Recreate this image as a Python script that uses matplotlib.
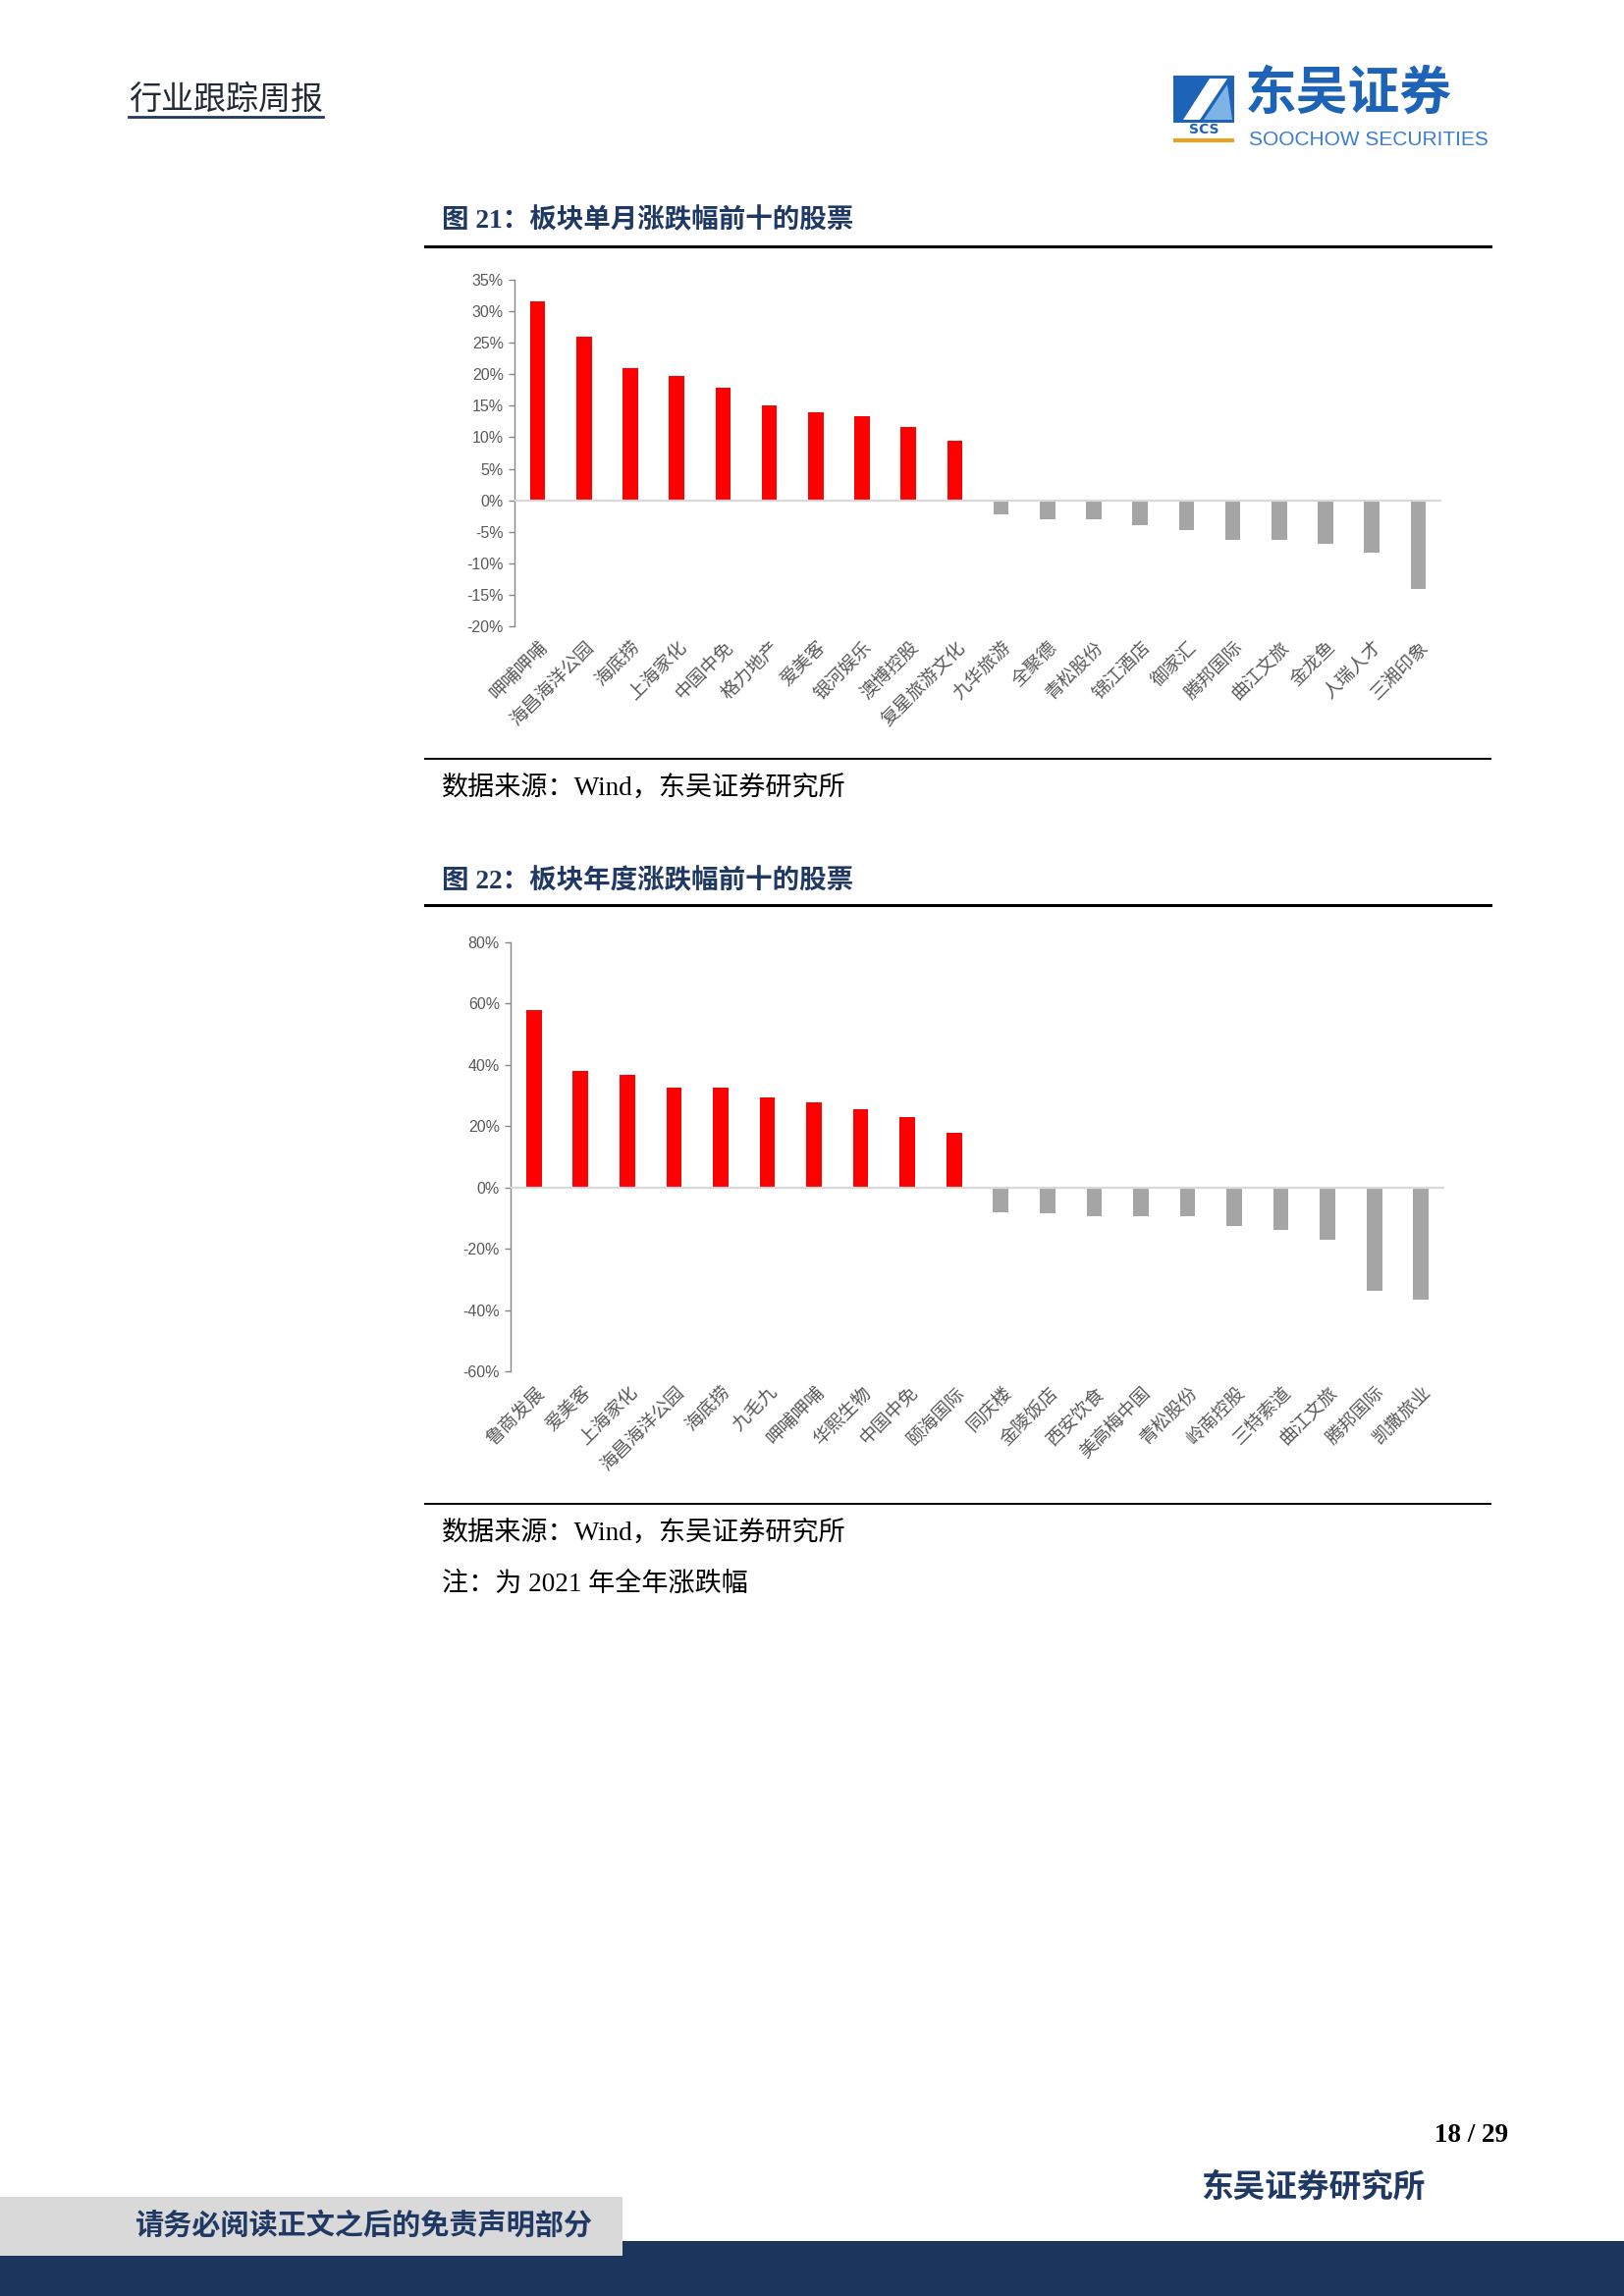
import matplotlib
matplotlib.use("Agg")
import matplotlib.pyplot as plt
from matplotlib.lines import Line2D
from matplotlib.patches import Rectangle, Polygon

plt.rcParams['font.family'] = ['Noto Sans CJK SC', 'DejaVu Sans']

# ---------------- data ----------------
names1 = ['呷哺呷哺', '海昌海洋公园', '海底捞', '上海家化', '中国中免', '格力地产', '爱美客',
          '银河娱乐', '澳博控股', '复星旅游文化', '九华旅游', '全聚德', '青松股份', '锦江酒店',
          '御家汇', '腾邦国际', '曲江文旅', '金龙鱼', '人瑞人才', '三湘印象']
vals1 = [31.5, 25.9, 21.0, 19.8, 17.9, 15.0, 13.9, 13.3, 11.7, 9.5,
         -2.2, -3.0, -3.0, -4.0, -4.7, -6.3, -6.3, -6.9, -8.3, -14.1]
yticks1 = [-20, -15, -10, -5, 0, 5, 10, 15, 20, 25, 30, 35]

names2 = ['鲁商发展', '爱美客', '上海家化', '海昌海洋公园', '海底捞', '九毛九', '呷哺呷哺',
          '华熙生物', '中国中免', '颐海国际', '同庆楼', '金陵饭店', '西安饮食', '美高梅中国',
          '青松股份', '岭南控股', '三特索道', '曲江文旅', '腾邦国际', '凯撒旅业']
vals2 = [57.9, 38.0, 36.7, 32.5, 32.5, 29.3, 27.7, 25.5, 22.9, 17.8,
         -8.0, -8.3, -9.3, -9.4, -9.5, -12.7, -13.9, -17.1, -33.7, -36.7]
yticks2 = [-60, -40, -20, 0, 20, 40, 60, 80]

title1 = '图 21：板块单月涨跌幅前十的股票'
title2 = '图 22：板块年度涨跌幅前十的股票'
source = '数据来源：Wind，东吴证券研究所'
note2 = '注：为 2021 年全年涨跌幅'

W, H = 1654, 2339
fig = plt.figure(figsize=(W / 100, H / 100), dpi=100)
fig.patch.set_facecolor('white')

NAVY = '#1F3864'
SERIF_CJK = ['Liberation Serif', 'Noto Sans CJK SC']


def fx(x):
    return x / W


def fy(y):
    return 1 - y / H


def hline(x0, x1, y, lw, color='black'):
    fig.add_artist(Line2D([fx(x0), fx(x1)], [fy(y), fy(y)], lw=lw, color=color,
                          transform=fig.transFigure))


def bar_chart(rect, names, vals, ylim, yticks):
    ax = fig.add_axes(rect)
    x = list(range(len(vals)))
    colors = ['#FF0000' if v >= 0 else '#A5A5A5' for v in vals]
    ax.bar(x, vals, width=0.33, color=colors, zorder=2)
    ax.axhline(0, color='#D9D9D9', lw=1.6, zorder=3)
    ax.set_xlim(-0.5, len(vals) - 0.5)
    ax.set_ylim(*ylim)
    ax.set_yticks(yticks)
    ax.set_yticklabels([f'{t}%' for t in yticks], fontsize=11.5, color='#595959',
                       family=['Liberation Sans', 'DejaVu Sans'])
    ax.set_xticks(x)
    ax.set_xticklabels(names, rotation=45, ha='right', rotation_mode='anchor',
                       fontsize=13.5, color='#595959')
    ax.tick_params(axis='x', length=0, pad=8)
    ax.tick_params(axis='y', direction='out', length=4, width=1, color='#868686', pad=4)
    for s in ['top', 'right', 'bottom']:
        ax.spines[s].set_visible(False)
    ax.spines['left'].set_color('#868686')
    ax.spines['left'].set_linewidth(1.0)
    ax.set_facecolor('none')
    return ax


# ---------------- charts ----------------
bar_chart([524 / W, 1 - 638 / H, 944 / W, 353 / H], names1, vals1, (-20, 35), yticks1)
bar_chart([520 / W, 1 - 1397 / H, 951 / W, 437 / H], names2, vals2, (-60, 80), yticks2)

# ---------------- titles / rules / sources ----------------
fig.text(fx(450), fy(225), title1, fontsize=19.8, fontweight='bold', color=NAVY,
         va='center', ha='left', family=SERIF_CJK)
hline(433, 1518, 251, 2.2)
hline(433, 1518, 773, 1.4)
fig.text(fx(450), fy(803), source, fontsize=19.5, color='black', va='center', ha='left',
         family=SERIF_CJK)

fig.text(fx(450), fy(898), title2, fontsize=19.8, fontweight='bold', color=NAVY,
         va='center', ha='left', family=SERIF_CJK)
hline(433, 1518, 922, 2.2)
hline(433, 1518, 1532, 1.4)
fig.text(fx(450), fy(1562), source, fontsize=19.5, color='black', va='center', ha='left',
         family=SERIF_CJK)
fig.text(fx(450), fy(1614), note2, fontsize=19.5, color='black', va='center', ha='left',
         family=SERIF_CJK)

# ---------------- header ----------------
fig.text(fx(131), fy(101), '行业跟踪周报', fontsize=23.8, color='#222A35', va='center', ha='left')
hline(131, 329, 119, 2.0, color=NAVY)

# logo
BLUE = '#1D63B8'
fig.add_artist(Rectangle((fx(1195), fy(125)), 62 / W, 48 / H, transform=fig.transFigure,
                         facecolor=BLUE, edgecolor='none'))
fig.add_artist(Polygon([(fx(1205), fy(122)), (fx(1232), fy(80)), (fx(1250), fy(80)),
                        (fx(1222), fy(122))], closed=True, transform=fig.transFigure,
                       facecolor='white', edgecolor='none'))
fig.add_artist(Polygon([(fx(1226), fy(122)), (fx(1250), fy(86)), (fx(1255), fy(122))],
                       closed=True, transform=fig.transFigure,
                       facecolor='#7FB2E5', edgecolor='none'))
fig.text(fx(1226), fy(132), 'SCS', fontsize=10, fontweight='bold', color=BLUE,
         ha='center', va='center', family=['DejaVu Sans'])
fig.add_artist(Rectangle((fx(1195), fy(145)), 62 / W, 4 / H, transform=fig.transFigure,
                         facecolor='#F0A020', edgecolor='none'))
fig.text(fx(1268), fy(111), '东吴证券', fontsize=38, fontweight='heavy', color=BLUE,
         ha='left', va='baseline')
fig.text(fx(1272), fy(148), 'SOOCHOW SECURITIES', fontsize=15, color='#3B7DD0',
         ha='left', va='baseline', family=['Liberation Sans Narrow', 'Liberation Sans'])

# ---------------- footer ----------------
fig.text(fx(1536), fy(2175), '18 / 29', fontsize=19.5, fontweight='bold', color='black',
         ha='right', va='center', family=['Liberation Serif'])
fig.text(fx(1223), fy(2228), '东吴证券研究所', fontsize=23.5, fontweight='bold', color=NAVY,
         ha='left', va='center')
fig.add_artist(Rectangle((0, fy(2339)), 1, 56 / H, transform=fig.transFigure,
                         facecolor='#1B365D', edgecolor='none'))
fig.add_artist(Rectangle((0, fy(2298)), 634 / W, 60 / H, transform=fig.transFigure,
                         facecolor='#D9D9D9', edgecolor='none'))
fig.text(fx(137), fy(2267), '请务必阅读正文之后的免责声明部分', fontsize=21, fontweight='bold',
         color=NAVY, ha='left', va='center')

fig.savefig('out.png', dpi=100)
